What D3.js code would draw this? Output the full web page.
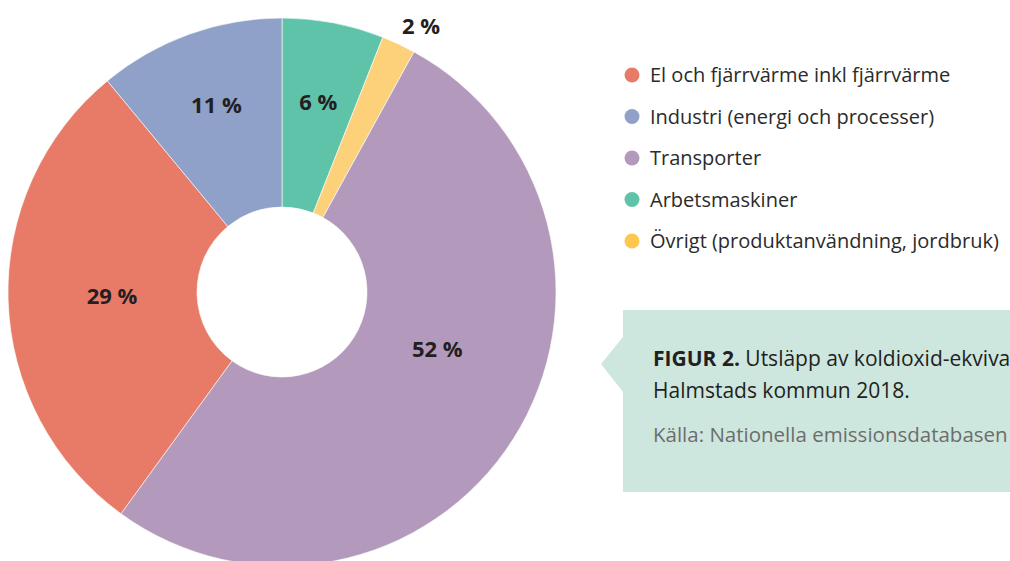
<!DOCTYPE html>
<html lang="sv">
<head>
<meta charset="UTF-8">
<title>Utsläpp per sektor</title>
<style>
  body { margin: 0; background: #fff; }
  svg { display: block; font-family: "Open Sans", "Noto Sans", sans-serif; }
</style>
</head>
<body>
<div id="chart"></div>
<script src="https://d3js.org/d3.v7.min.js"></script>
<script>
// data, pie order is clockwise from 12 o'clock
const pieSectors = ['Arbetsmaskiner', 'Övrigt (produktanvändning, jordbruk)', 'Transporter',
  'El och fjärrvärme inkl fjärrvärme', 'Industri (energi och processer)'];
const pieValues = [6, 2, 52, 29, 11];
const sliceColors = ['#5fc3aa', '#fdd07a', '#b399bb', '#e87b68', '#8fa0c9'];

// legend order as in the picture
const legendSectors = ['El och fjärrvärme inkl fjärrvärme', 'Industri (energi och processer)',
  'Transporter', 'Arbetsmaskiner', 'Övrigt (produktanvändning, jordbruk)'];
const legendColors = ['#e87b68', '#8fa0c9', '#b399bb', '#5fc3aa', '#fcc84e'];

const captionTitle = 'FIGUR 2.';
const captionLines = ['Utsläpp av koldioxid-ekvivalenter per sektor i', 'Halmstads kommun 2018.'];
const captionSource = 'Källa: Nationella emissionsdatabasen';

const width = 1010;
const height = 561;
const cx = 282, cy = 292;
const outerR = 274, innerR = 85;

const svg = d3.select('#chart').append('svg')
  .attr('width', width)
  .attr('height', height);

const color = d3.scaleOrdinal().domain(pieSectors).range(sliceColors);

const pie = d3.pie().sort(null).value(d => d.value);
const arcs = pie(pieSectors.map((s, i) => ({ sector: s, value: pieValues[i] })));

const arc = d3.arc().innerRadius(innerR).outerRadius(outerR);

const g = svg.append('g').attr('transform', `translate(${cx},${cy})`);

g.selectAll('path').data(arcs).enter().append('path')
  .attr('d', arc)
  .attr('fill', d => color(d.data.sector))
  .attr('stroke', '#fff')
  .attr('stroke-width', 0.6);

// label placement: radius and angle shift (radians) per slice, as in the original layout
const labelPlace = {
  'Arbetsmaskiner': [194, 0],
  'Övrigt (produktanvändning, jordbruk)': [301, 0.04],
  'Transporter': [165, -0.22],
  'El och fjärrvärme inkl fjärrvärme': [170, 0.015],
  'Industri (energi och processer)': [199, 0.01]
};
g.selectAll('text.lbl').data(arcs).enter().append('text')
  .attr('class', 'lbl')
  .attr('transform', d => {
    const [r, shift] = labelPlace[d.data.sector];
    const a = (d.startAngle + d.endAngle) / 2 + shift;
    return `translate(${Math.sin(a) * r},${-Math.cos(a) * r})`;
  })
  .attr('text-anchor', 'middle')
  .attr('dominant-baseline', 'central')
  .attr('font-size', 22)
  .attr('font-weight', 700)
  .attr('fill', '#231f20')
  .text(d => `${d.data.value} %`);

// legend
const legendY = d3.scalePoint().domain(legendSectors).range([75, 241]);
const legend = svg.append('g');
const item = legend.selectAll('g').data(legendSectors).enter().append('g')
  .attr('transform', d => `translate(632,${legendY(d)})`);
item.append('circle')
  .attr('r', 7.5)
  .attr('fill', (d, i) => legendColors[i]);
item.append('text')
  .attr('x', 18)
  .attr('y', 7)
  .attr('font-size', 20)
  .attr('fill', '#2b2b2b')
  .text(d => d);

// caption box with pointer
const box = svg.append('g');
box.append('path')
  .attr('d', 'M623,310 H1010 V492 H623 V392 L601,364 L623,337 Z')
  .attr('fill', '#cde6de');
const cap1 = box.append('text')
  .attr('x', 653).attr('y', 366)
  .attr('font-size', 21).attr('fill', '#231f20');
cap1.append('tspan').attr('font-weight', 700).text(captionTitle + ' ');
cap1.append('tspan').text(captionLines[0]);
box.append('text')
  .attr('x', 653).attr('y', 398)
  .attr('font-size', 21).attr('fill', '#231f20')
  .text(captionLines[1]);
box.append('text')
  .attr('x', 653).attr('y', 442)
  .attr('font-size', 20.5).attr('fill', '#6d6d6d')
  .text(captionSource);
</script>
</body>
</html>
